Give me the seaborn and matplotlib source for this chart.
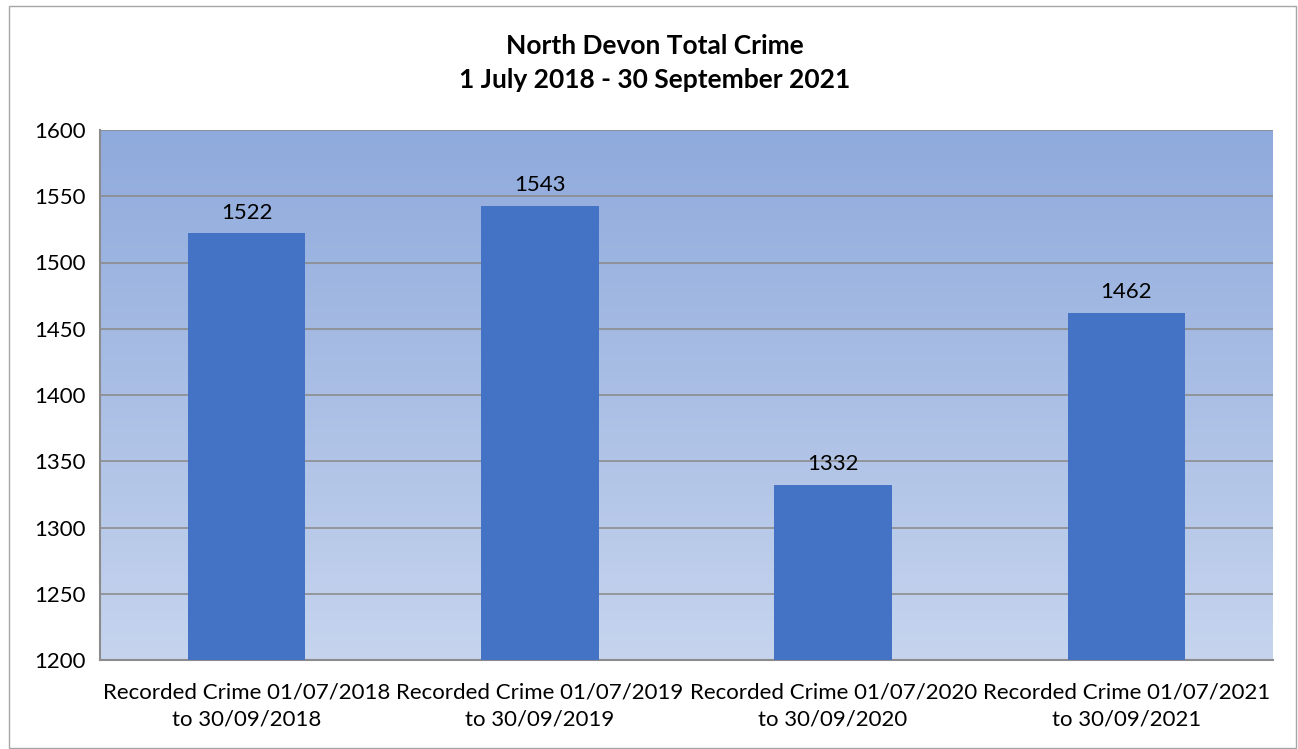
import numpy as np
import pandas as pd
import matplotlib.pyplot as plt
import seaborn as sns
from matplotlib.colors import LinearSegmentedColormap
from matplotlib.patches import Rectangle

# data
periods = [
    "Recorded Crime 01/07/2018\nto 30/09/2018",
    "Recorded Crime 01/07/2019\nto 30/09/2019",
    "Recorded Crime 01/07/2020\nto 30/09/2020",
    "Recorded Crime 01/07/2021\nto 30/09/2021",
]
total_crime = [1522, 1543, 1332, 1462]
y_ticks = [1200, 1250, 1300, 1350, 1400, 1450, 1500, 1550, 1600]

df = pd.DataFrame({"period": periods, "crime": total_crime})

sns.set_theme(style="white")
plt.rcParams['font.family'] = ['Lato', 'DejaVu Sans']

fig = plt.figure(figsize=(12.98, 7.49), dpi=100)
ax = fig.add_axes([100 / 1298, 1 - 660 / 749, 1173 / 1298, 530 / 749])

# gradient background in the plot area
grad = LinearSegmentedColormap.from_list("bg", ["#c6d4ee", "#8faadc"])
ax.imshow(np.linspace(0, 1, 256).reshape(-1, 1), cmap=grad, origin="lower",
          aspect="auto", extent=[-0.5, 3.5, 1200, 1600], zorder=0)

sns.barplot(data=df, x="period", y="crime", color="#4472c4", saturation=1,
            width=0.4, linewidth=0, ax=ax, zorder=3)

ax.set_xlim(-0.5, 3.5)
ax.set_ylim(1200, 1600)
ax.set_yticks(y_ticks)
ax.yaxis.grid(True, color="#8c8c8c", linewidth=1.2, zorder=1)
ax.set_axisbelow(True)
ax.set_xlabel("")
ax.set_ylabel("")
ax.tick_params(axis="both", labelsize=16, colors="black", length=0)
ax.tick_params(axis="x", pad=16)
ax.tick_params(axis="y", pad=10)
for lbl in ax.get_xticklabels():
    lbl.set_linespacing(1.45)

for s in ["top", "right"]:
    ax.spines[s].set_visible(False)
for s in ["left", "bottom"]:
    ax.spines[s].set_color("#8c8c8c")
    ax.spines[s].set_linewidth(1.5)

for i, v in enumerate(total_crime):
    ax.text(i, v + 8, str(v), ha="center", va="bottom", fontsize=16, color="black")

fig.text(655 / 1298, 1 - 63 / 749, "North Devon Total Crime\n1 July 2018 - 30 September 2021",
         ha="center", va="center", fontsize=19, fontweight="bold", linespacing=1.5,
         color="black")

# chart border
fig.patches.append(Rectangle((9 / 1298, 1 / 749), 1287 / 1298, 742 / 749,
                             transform=fig.transFigure, fill=False,
                             edgecolor="#a6a6a6", linewidth=1))

fig.savefig("out.png", dpi=100)
